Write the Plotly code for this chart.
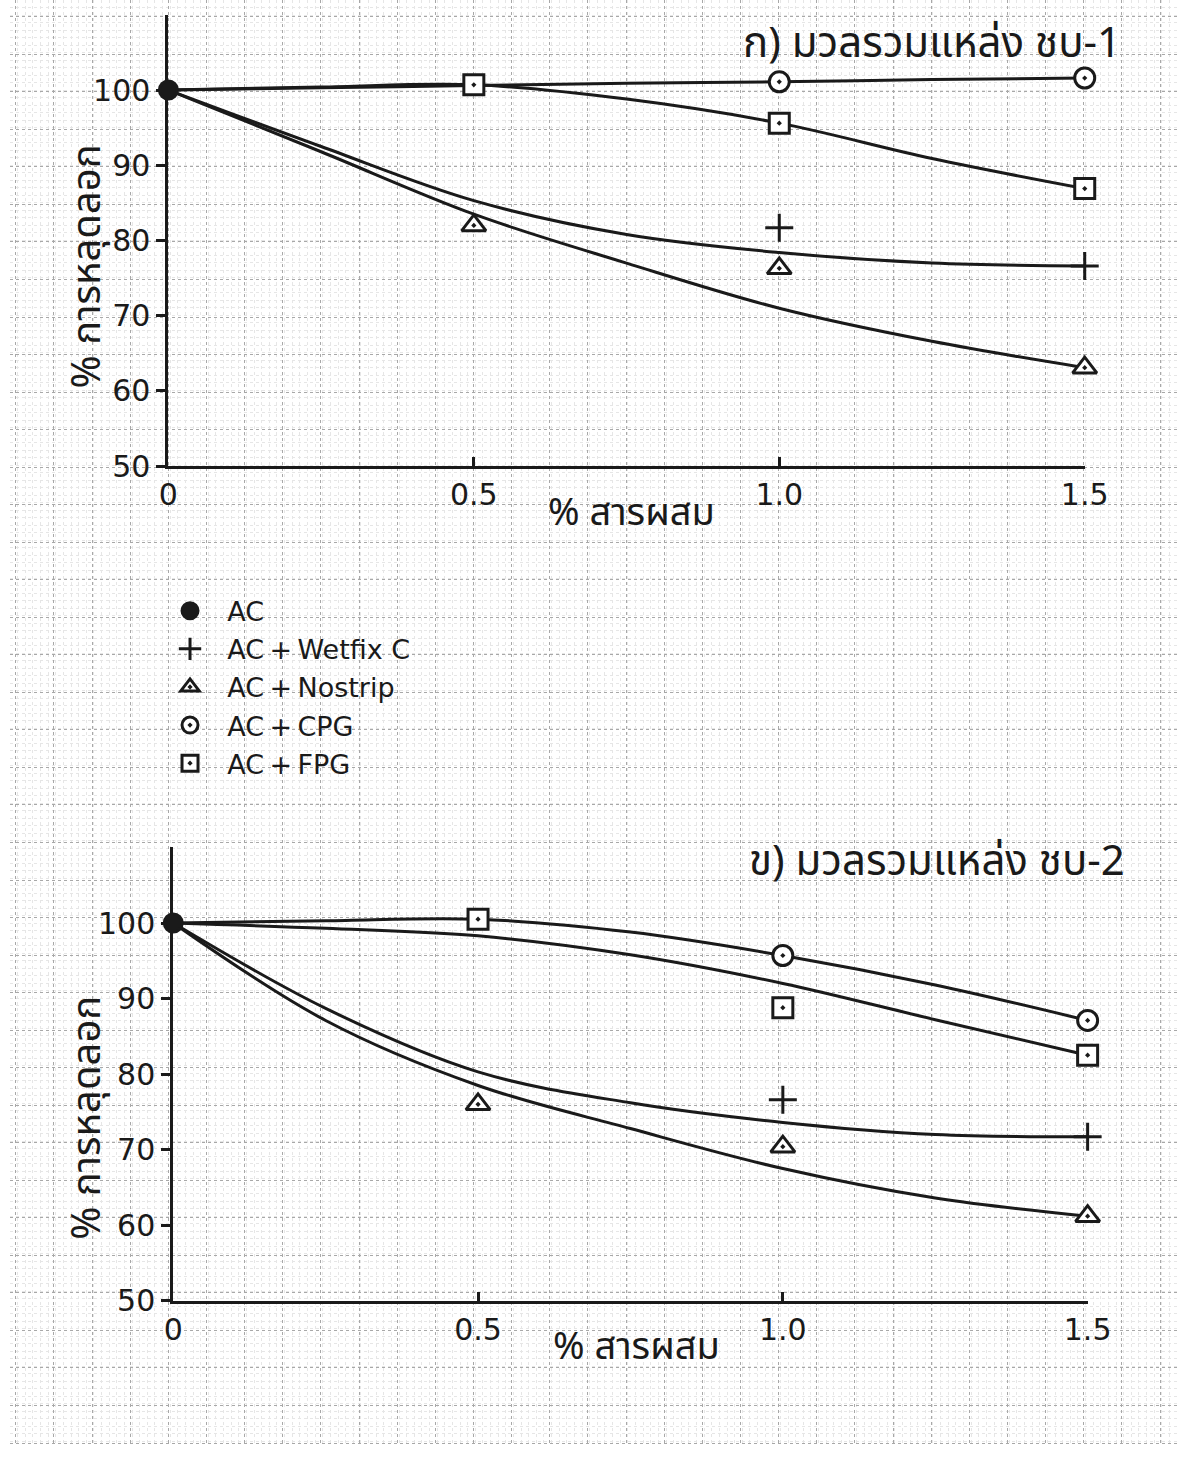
import plotly.graph_objects as go

# Additive dosage (% by weight) and stripping retention results
dosage = [0, 0.5, 1.0, 1.5]
fit_x = [0, 0.25, 0.5, 0.75, 1.0, 1.25, 1.5]

series_names = ["AC", "AC\u2009+\u2009Wetfix C", "AC\u2009+\u2009Nostrip",
                "AC\u2009+\u2009CPG", "AC\u2009+\u2009FPG"]

# ---- Panel A: aggregate source ชบ-1 ----
a_ac_x, a_ac_y = [0], [100]
a_wet_x, a_wet_y = [1.0, 1.5], [81.7, 76.6]
a_nos_x, a_nos_y = [0.5, 1.0, 1.5], [82.0, 76.3, 63.1]
a_cpg_x, a_cpg_y = [1.0, 1.5], [101.1, 101.6]
a_fpg_x, a_fpg_y = [0.5, 1.0, 1.5], [100.7, 95.6, 86.9]
# hand-drawn fitted curves
a_wet_fit = [100, 92.5, 85.3, 80.8, 78.4, 77.0, 76.6]
a_nos_fit = [100, 91.8, 83.5, 77.0, 71.0, 66.6, 63.1]
a_cpg_fit = [100, 100.3, 100.6, 100.9, 101.1, 101.4, 101.6]
a_fpg_fit = [100, 100.4, 100.7, 98.8, 95.6, 90.9, 86.9]

# ---- Panel B: aggregate source ชบ-2 ----
b_ac_x, b_ac_y = [0], [100]
b_wet_x, b_wet_y = [1.0, 1.5], [76.6, 71.7]
b_nos_x, b_nos_y = [0.5, 1.0, 1.5], [76.0, 70.4, 61.2]
b_cpg_x, b_cpg_y = [1.0, 1.5], [95.7, 87.1]
b_fpg_x, b_fpg_y = [0.5, 1.0, 1.5], [100.5, 88.8, 82.5]
b_wet_fit = [100, 88.7, 80.3, 76.2, 73.6, 72.0, 71.7]
b_nos_fit = [100, 87.1, 78.5, 72.8, 67.5, 63.6, 61.2]
b_cpg_fit = [100, 100.3, 100.5, 98.8, 95.7, 91.8, 87.1]
b_fpg_fit = [100, 99.3, 98.3, 95.8, 92.0, 87.2, 82.5]

y_ticks = [50, 60, 70, 80, 90, 100]
x_tick_labels = ["0", "0.5", "1.0", "1.5"]

W, H = 1202, 1464
INK = "#1a1a1a"
NUM_FONT = "DejaVu Sans, Liberation Sans, sans-serif"
THAI_FONT = "Noto Sans Thai, Loma, Garuda, Norasi, Noto Sans, DejaVu Sans, sans-serif"

symbols = ["circle", "cross-thin", "triangle-up-dot", "circle-dot", "square-dot"]
sizes = [18, 20, 21, 20, 20]

fig = go.Figure()

# empty trace that anchors the full-page graph-paper axes
fig.add_trace(go.Scatter(x=[], y=[], xaxis="x", yaxis="y", showlegend=False, hoverinfo="skip"))


def add_panel(xa, ya, fits, points, show_legend):
    for fy in fits:
        fig.add_trace(go.Scatter(
            x=fit_x, y=fy, mode="lines", xaxis=xa, yaxis=ya, cliponaxis=False,
            line=dict(color=INK, width=3, shape="spline", smoothing=1.0),
            showlegend=False, hoverinfo="skip"))
    for name, (px, py), sym, sz in zip(series_names, points, symbols, sizes):
        filled = sym in ("circle", "cross-thin")
        fig.add_trace(go.Scatter(
            x=px, y=py, mode="markers", name="\u00a0\u00a0" + name, xaxis=xa, yaxis=ya,
            cliponaxis=False,
            marker=dict(symbol=sym, size=sz, color=INK if filled else "white",
                        line=dict(color=INK, width=3)),
            showlegend=show_legend))


add_panel("x2", "y2",
          [a_wet_fit, a_nos_fit, a_cpg_fit, a_fpg_fit],
          [(a_ac_x, a_ac_y), (a_wet_x, a_wet_y), (a_nos_x, a_nos_y),
           (a_cpg_x, a_cpg_y), (a_fpg_x, a_fpg_y)], True)
add_panel("x3", "y3",
          [b_wet_fit, b_nos_fit, b_cpg_fit, b_fpg_fit],
          [(b_ac_x, b_ac_y), (b_wet_x, b_wet_y), (b_nos_x, b_nos_y),
           (b_cpg_x, b_cpg_y), (b_fpg_x, b_fpg_y)], False)


def data_x(dom):
    return dict(domain=dom, range=[0, 1.5], tickvals=dosage, ticktext=x_tick_labels,
                showline=True, linecolor=INK, linewidth=3, ticks="inside", ticklen=9,
                tickwidth=3, tickcolor=INK, showgrid=False, zeroline=False,
                tickfont=dict(family=NUM_FONT, size=30, color=INK), ticklabelstandoff=0)


def data_y(dom, anchor):
    return dict(domain=dom, range=[50, 110], tickvals=y_ticks, anchor=anchor,
                showline=True, linecolor=INK, linewidth=3, ticks="outside", ticklen=9,
                tickwidth=3, tickcolor=INK, showgrid=False, zeroline=False,
                tickfont=dict(family=NUM_FONT, size=30, color=INK), ticklabelstandoff=0)


fig.update_layout(
    width=W, height=H, autosize=False,
    margin=dict(l=0, r=0, t=0, b=0),
    paper_bgcolor="white", plot_bgcolor="rgba(0,0,0,0)",
    # graph paper behind everything
    xaxis=dict(domain=[0, 1], range=[0, W], showticklabels=False, zeroline=False,
               showgrid=True, gridcolor="#a8a8a8", griddash="dot", gridwidth=1,
               tick0=163, dtick=39.25,
               minor=dict(showgrid=True, gridcolor="#e6e6e6", griddash="dot", dtick=7.85),
               fixedrange=True),
    yaxis=dict(domain=[0, 1], range=[H, 0], showticklabels=False, zeroline=False,
               showgrid=True, gridcolor="#a8a8a8", griddash="dot", gridwidth=1,
               tick0=93, dtick=38,
               minor=dict(showgrid=True, gridcolor="#e6e6e6", griddash="dot", dtick=7.6),
               fixedrange=True),
    xaxis2=dict(anchor="y2", **data_x([163 / W, 1106 / W])),
    yaxis2=data_y([(H - 472) / H, (H - 15) / H], "x2"),
    xaxis3=dict(anchor="y3", **data_x([168 / W, 1109 / W])),
    yaxis3=data_y([(H - 1317) / H, (H - 858) / H], "x3"),
    legend=dict(x=0.137, y=1 - 594 / H, xanchor="left", yanchor="top",
                font=dict(family=NUM_FONT, size=27, color=INK),
                bgcolor="rgba(0,0,0,0)", itemsizing="trace", tracegroupgap=0),
    showlegend=True,
)

ann = []
ann.append(dict(text="ก) มวลรวมแหล่ง ชบ-1", x=1145 / W, y=1 - 45 / H, xref="paper", yref="paper",
                xanchor="right", yanchor="middle", showarrow=False,
                font=dict(family=THAI_FONT, size=42, color=INK)))
ann.append(dict(text="ข) มวลรวมแหล่ง ชบ-2", x=1150 / W, y=1 - 873 / H, xref="paper", yref="paper",
                xanchor="right", yanchor="middle", showarrow=False,
                font=dict(family=THAI_FONT, size=42, color=INK)))
for cy in (270, 1132):
    ann.append(dict(text="% การหลุดลอก", x=80 / W, y=1 - cy / H, xref="paper", yref="paper",
                    xanchor="center", yanchor="middle", textangle=-90, showarrow=False,
                    font=dict(family=THAI_FONT, size=40, color=INK)))
for cx, cy in ((640, 520), (645, 1364)):
    ann.append(dict(text="% สารผสม", x=cx / W, y=1 - cy / H, xref="paper", yref="paper",
                    xanchor="center", yanchor="middle", showarrow=False,
                    font=dict(family=THAI_FONT, size=38, color=INK)))
fig.update_layout(annotations=ann)

fig.write_html("out.html")
